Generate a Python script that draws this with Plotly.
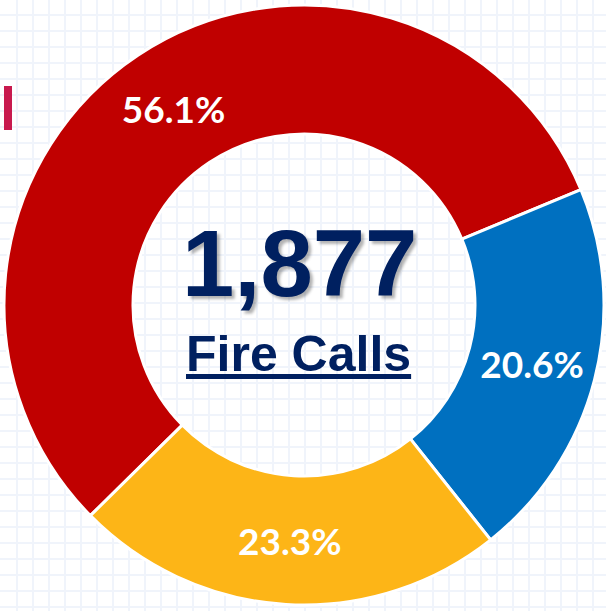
import plotly.graph_objects as go

# Data
categories = ["Category A", "Category B", "Category C"]
percents = [56.1, 20.6, 23.3]
colors = ["#C00000", "#0070C0", "#FDB517"]
total_calls = "1,877"
center_label = "Fire Calls"

W, H = 606, 611

fig = go.Figure()

# invisible cartesian trace to host background gridlines
fig.add_trace(go.Scatter(x=[None], y=[None], showlegend=False, hoverinfo="skip"))

fig.add_trace(go.Pie(
    labels=categories,
    values=percents,
    marker=dict(colors=colors, line=dict(color="white", width=3)),
    hole=0.57,
    sort=False,
    direction="clockwise",
    rotation=225.4,
    texttemplate="%{value}%",
    textposition="inside",
    insidetextorientation="horizontal",
    textfont=dict(family="Lato", size=37, color="white", weight="bold"),
    domain=dict(x=[4 / W, 604 / W], y=[1 - 605 / H, 1 - 5 / H]),
    showlegend=False,
    hoverinfo="label+percent",
))

grid_color = "#F0F4FB"
fig.update_layout(
    width=W, height=H,
    margin=dict(l=0, r=0, t=0, b=0),
    paper_bgcolor="white",
    plot_bgcolor="white",
    xaxis=dict(range=[0, W], tick0=17, dtick=16, showgrid=True, gridcolor=grid_color,
               gridwidth=2, zeroline=False, showticklabels=False, ticks="", showline=False,
               fixedrange=True),
    yaxis=dict(range=[H, 0], tick0=15, dtick=16, showgrid=True, gridcolor=grid_color,
               gridwidth=2, zeroline=False, showticklabels=False, ticks="", showline=False,
               fixedrange=True),
    shapes=[dict(type="rect", xref="x", yref="y", x0=4, x1=12, y0=86, y1=130,
                 fillcolor="#C81A4E", line=dict(width=0), layer="above")],
)

navy = "#002060"
font_main = "Liberation Sans, Arial, sans-serif"
fig.add_annotation(x=299, y=263, xref="x", yref="y", text="<b>" + total_calls + "</b>",
                   showarrow=False,
                   font=dict(family=font_main, size=94, color=navy,
                             shadow="3px 3px 3px rgba(0,0,0,0.3)"))
fig.add_annotation(x=298, y=354, xref="x", yref="y", text="<b><u>" + center_label + "</u></b>",
                   showarrow=False,
                   font=dict(family=font_main, size=50, color=navy))

fig.write_html("out.html")
